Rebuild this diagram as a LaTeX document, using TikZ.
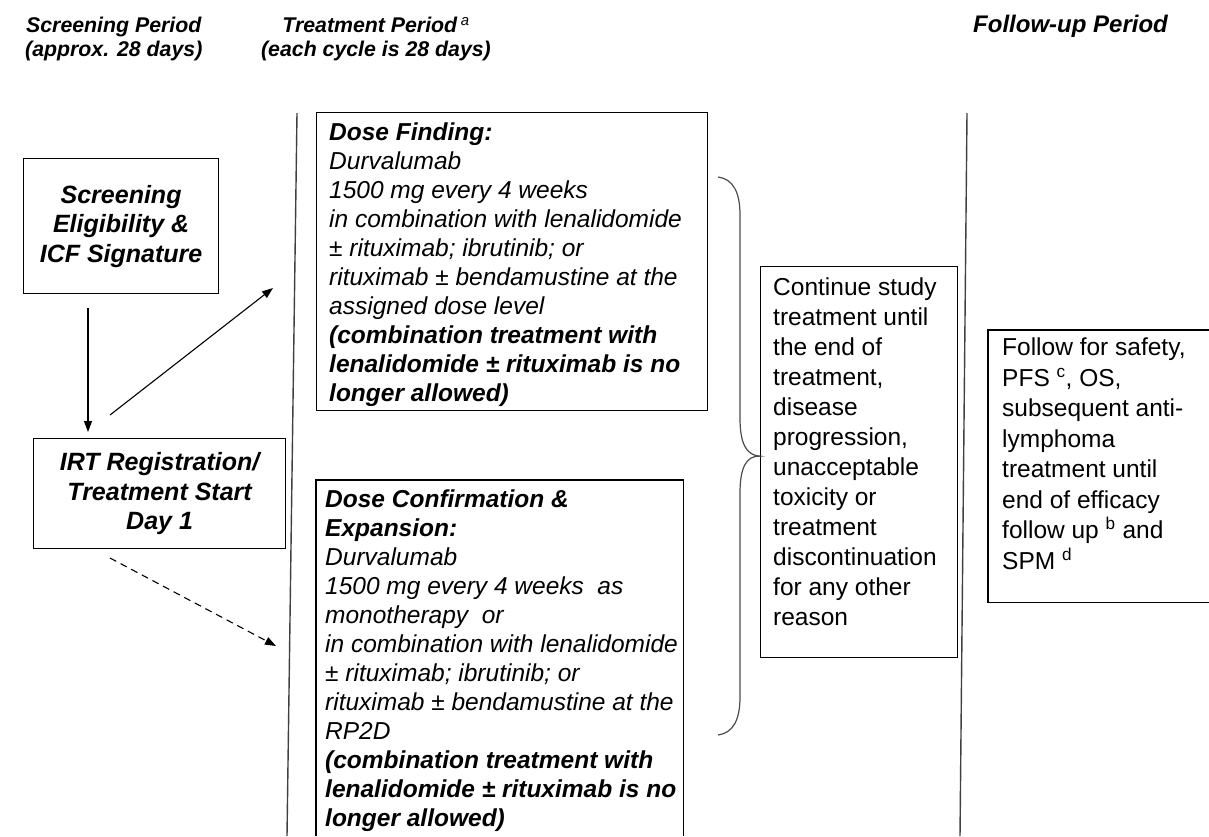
\documentclass[tikz,border=0pt]{standalone}
\usepackage{fontspec}
\setmainfont{Liberation Sans}
\usetikzlibrary{arrows.meta}
\begin{document}
\begin{tikzpicture}[x=1pt,y=-1pt,
  head/.style={font=\fontsize{21.3}{23.5}\selectfont\bfseries\itshape, align=center, inner sep=0pt},
  frame/.style={draw=black, line width=1.2pt},
  body/.style={font=\fontsize{24.5}{29}\selectfont, align=left, inner sep=0pt, anchor=north west},
  bodyit/.style={body, font=\fontsize{24.5}{29}\selectfont\itshape},
  bodyc/.style={font=\fontsize{25}{29.5}\selectfont\bfseries\itshape, align=center, inner sep=0pt},
  divider/.style={draw=black!75, line width=1.4pt},
  brace/.style={draw=black!70, line width=1.2pt},
  arr/.style={line width=1.1pt, -{Triangle[length=11pt,width=8pt]}},
]
\useasboundingbox (0,0) rectangle (1209,836);

% column headings
\node[head, anchor=north west] (hScr) at (25,17) {Screening Period\\(approx. 28 days)};
\node[head, anchor=north] (hTrt) at (376,17) {Treatment Period\,\textsuperscript{\mdseries a}\\(each cycle is 28 days)};
\node[head, anchor=north west, font=\fontsize{24}{27}\selectfont\bfseries\itshape] (hFol) at (973,15) {Follow-up Period};

% period dividers
\coordinate (divAt) at (297,113);
\coordinate (divAb) at (287,836);
\coordinate (divBt) at (967,113);
\coordinate (divBb) at (960,836);
\draw[divider] (divAt) -- (divAb);
\draw[divider] (divBt) -- (divBb);

% screening column
\node[frame, bodyc, minimum width=195pt, minimum height=135pt, anchor=north west] (scr) at (23,158)
  {\raisebox{-4pt}{\parbox{190pt}{\centering Screening\\Eligibility \&\\ICF Signature}}};
\node[frame, bodyc, minimum width=252pt, minimum height=110pt, anchor=north west] (irt) at (33,438)
  {IRT Registration/\\Treatment Start\\Day 1};

% treatment column
\node[frame, minimum width=391pt, minimum height=298pt, anchor=north west, inner sep=0pt] (df) at (316,112) {};
\node[bodyit] (dfTxt) at ([shift={(13,11)}]df.north west)
  {\textbf{Dose Finding:}\\
   Durvalumab\\
   1500 mg every 4 weeks\\
   in combination with lenalidomide\\
   ± rituximab; ibrutinib; or\\
   rituximab ± bendamustine at the\\
   assigned dose level\\
   \textbf{(combination treatment with}\\
   \textbf{lenalidomide ± rituximab is no}\\
   \textbf{longer allowed)}};

\node[minimum width=367pt, minimum height=356pt, anchor=north west, inner sep=0pt] (dc) at (316,480) {};
\draw[frame] (dc.south west) -- (dc.north west) -- (dc.north east) -- (dc.south east);
\node[bodyit] (dcTxt) at ([shift={(9,10)}]dc.north west)
  {\textbf{Dose Confirmation \&}\\
   \textbf{Expansion:}\\
   Durvalumab\\
   1500 mg every 4 weeks~ as\\
   monotherapy~ or\\
   in combination with lenalidomide\\
   ± rituximab; ibrutinib; or\\
   rituximab ± bendamustine at the\\
   RP2D\\
   \textbf{(combination treatment with}\\
   \textbf{lenalidomide ± rituximab is no}\\
   \textbf{longer allowed)}};

\node[frame, minimum width=197pt, minimum height=391pt, anchor=north west, inner sep=0pt] (cont) at (760,266) {};
\node[body, font=\fontsize{24.5}{30}\selectfont] (contTxt) at ([shift={(13,12)}]cont.north west)
  {Continue study\\
   treatment until\\
   the end of\\
   treatment,\\
   disease\\
   progression,\\
   unacceptable\\
   toxicity or\\
   treatment\\
   discontinuation\\
   for any other\\
   reason};

% brace gathering both treatment boxes
\coordinate (brT) at (718,177);
\coordinate (brB) at (718,735);
\coordinate (brTip) at ([yshift=6pt]cont.west);
\draw[brace] (brT) .. controls (733,179) and (740,192) .. (740,215) -- (740,418)
  .. controls (740,443) and (746,455.5) .. (brTip)
  .. controls (746,455.5) and (740,468) .. (740,493) -- (740,697)
  .. controls (740,720) and (733,733) .. (brB);

% follow-up column
\node[minimum width=221pt, minimum height=272pt, anchor=north west, inner sep=0pt] (fu) at (988,330) {};
\draw[frame] (fu.north east) -- (fu.north west) -- (fu.south west) -- (fu.south east);
\node[body, font=\fontsize{24.5}{30.5}\selectfont] (fuTxt) at ([shift={(14,8)}]fu.north west)
  {Follow for safety,\\
   PFS \textsuperscript{c}, OS,\\
   subsequent anti-\\
   lymphoma\\
   treatment until\\
   end of efficacy\\
   follow up \textsuperscript{b} and\\
   SPM \textsuperscript{d}};

% arrows
\coordinate (vS) at (88,308);
\draw[arr] (vS) -- ([yshift=6pt]vS |- irt.north);
\coordinate (dS) at (110,415);
\coordinate (dE) at (273,288);
\draw[arr] (dS) -- (dE);
\coordinate (eS) at (110,558);
\coordinate (eE) at (276,646);
\draw[arr, dash pattern=on 7pt off 5pt] (eS) -- (eE);
\end{tikzpicture}
\end{document}
